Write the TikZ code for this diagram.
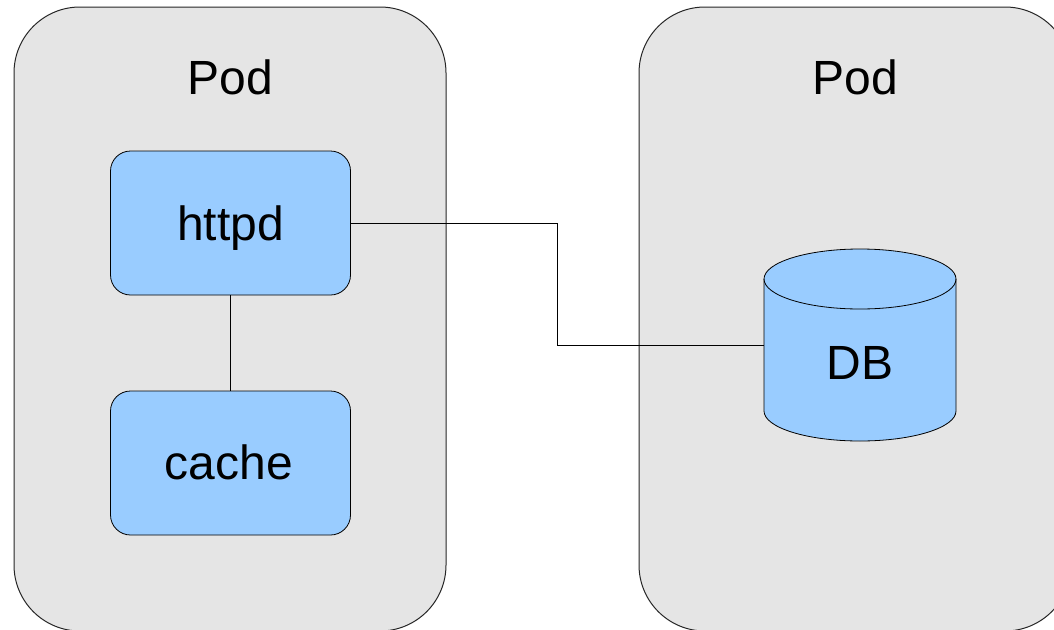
\documentclass[tikz,border=0pt]{standalone}
\usepackage{fontspec}
\setmainfont{Liberation Sans}
\definecolor{podfill}{HTML}{E5E5E5}
\definecolor{boxfill}{HTML}{99CCFF}
\tikzset{
  pod/.style={draw=black!85, line width=1pt, fill=podfill, rounded corners=66pt},
  svc/.style={draw=black, line width=0.8pt, fill=boxfill, rounded corners=20pt,
    minimum width=240pt, minimum height=144pt, inner sep=0pt},
  lbl/.style={font=\fontsize{48}{56}\selectfont, anchor=base, inner sep=0pt},
  conn/.style={draw=black, line width=0.8pt},
}
\begin{document}
\begin{tikzpicture}[x=1pt,y=1pt]
\clip (0,0) rectangle (1054,-629);
\fill[white] (0,0) rectangle (1054,-629);
% pods
\draw[pod] (14,-7) rectangle (446,-631);
\draw[pod] (639,-7) rectangle (1071,-631);
\node[lbl] (podA) at (230.5,-94) {Pod};
\node[lbl] (podB) at (855,-94) {Pod};
% services
\node[svc] (httpd) at (230.5,-223) {};
\node[lbl] (httpdl) at (230.5,-240) {httpd};
\node[svc] (cache) at (230.5,-463) {};
\node[lbl] (cachel) at (229,-479) {cache};
% database cylinder
\node[minimum width=192pt, minimum height=192pt, inner sep=0pt] (db) at (860,-345) {};
\draw[draw=black, line width=0.8pt, fill=boxfill]
  (764,-279) -- (764,-411)
  arc[start angle=180, end angle=360, x radius=96, y radius=30]
  -- (956,-279)
  arc[start angle=0, end angle=180, x radius=96, y radius=30] -- cycle;
\draw[black, line width=0.8pt] (764,-279)
  arc[start angle=180, end angle=360, x radius=96, y radius=30];
\node[lbl] (dbl) at (860,-379) {DB};
% connectors
\coordinate (turn) at (557,-345);
\draw[conn] (httpd.south) -- (cache.north);
\draw[conn] (httpd.east) -| (turn) -- (db.west);
\end{tikzpicture}
\end{document}
